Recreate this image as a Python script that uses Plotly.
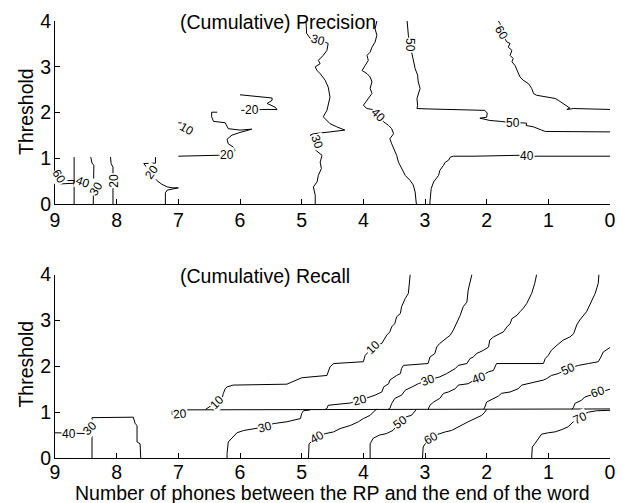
import plotly.graph_objects as go

# ---------------- Data (x: number of phones, y: threshold) ----------------
tick_vals_x = [0, 1, 2, 3, 4, 5, 6, 7, 8, 9]
tick_vals_y = [0, 1, 2, 3, 4]

# (Cumulative) Precision contour paths
p60a_x = [9.0, 8.69, 8.69, 9.0]
p60a_y = [0.52, 0.52, 0.46, 0.44]
p40a_x = [8.69, 8.69]
p40a_y = [1.03, 0.0]
p30a_x = [8.42, 8.40, 8.37, 8.37, 8.38, 8.38]
p30a_y = [1.03, 0.90, 0.85, 0.60, 0.30, 0.0]
p20a_x = [8.10, 8.09, 8.06, 8.06]
p20a_y = [1.03, 0.89, 0.81, 0.0]
p20b_x = [7.37, 7.37, 7.56, 7.35, 7.27, 7.18, 7.10, 7.00, 7.18, 7.21, 7.21]
p20b_y = [1.03, 0.90, 0.89, 0.52, 0.44, 0.38, 0.36, 0.36, 0.31, 0.25, 0.0]
p10_x = [7.00, 6.84, 6.82, 6.90, 7.00]
p10_y = [1.78, 1.76, 1.68, 1.60, 1.58]
p20c_x = [6.37, 6.46, 6.46, 6.43, 6.24, 6.19, 6.00, 5.81, 6.02, 6.13, 6.21, 6.19,
          6.11, 6.08, 6.13, 6.21, 6.35, 7.00]
p20c_y = [2.01, 2.01, 1.91, 1.81, 1.78, 1.65, 1.62, 1.64, 1.56, 1.51, 1.42, 1.32,
          1.25, 1.18, 1.11, 1.07, 1.07, 1.05]
p20d_x = [6.00, 5.48, 5.48, 5.56, 5.43, 5.40, 5.65, 5.81, 5.98]
p20d_y = [2.39, 2.32, 2.27, 2.20, 2.12, 2.07, 2.07, 2.05, 2.05]
p30_x = [4.93, 4.92, 4.86, 4.73, 4.62, 4.57, 4.59, 4.65, 4.73, 4.70, 4.78, 4.75,
         4.70, 4.62, 4.57, 4.54, 4.57, 4.59, 4.65, 4.54, 4.43, 4.30, 4.54, 4.81,
         4.86, 4.75, 4.81, 4.73, 4.67, 4.70, 4.68, 4.73, 4.75, 4.81, 4.78, 4.78]
p30_y = [4.00, 3.73, 3.62, 3.58, 3.54, 3.51, 3.36, 3.25, 3.14, 3.07, 3.00, 2.92,
         2.85, 2.71, 2.56, 2.34, 2.20, 2.05, 1.91, 1.76, 1.69, 1.62, 1.58, 1.54,
         1.51, 1.36, 1.22, 1.14, 1.07, 0.92, 0.78, 0.63, 0.49, 0.38, 0.20, 0.0]
p40l_x = [3.78, 3.81, 3.78, 3.81, 3.86, 3.89, 3.94, 3.92, 3.97, 4.02, 3.94, 3.89,
          3.86, 3.89, 3.86, 3.92, 3.97, 4.00, 3.94, 3.86, 3.76, 3.67, 3.59, 3.54,
          3.51, 3.57, 3.54, 3.51, 3.46, 3.43, 3.38, 3.32, 3.24, 3.19, 3.16, 3.14, 3.14]
p40l_y = [4.00, 3.83, 3.69, 3.54, 3.43, 3.32, 3.25, 3.14, 3.03, 2.92, 2.85, 2.78,
          2.67, 2.53, 2.42, 2.31, 2.23, 2.16, 2.09, 2.07, 1.94, 1.80, 1.72, 1.65,
          1.54, 1.43, 1.32, 1.22, 1.07, 0.92, 0.78, 0.63, 0.52, 0.42, 0.27, 0.05, 0.0]
p40r_x = [2.92, 2.92, 2.90, 2.86, 2.78, 2.76, 2.70, 2.67, 2.62, 2.59, 2.54, 2.19,
          1.46, 1.34, 1.22, 0.0]
p40r_y = [0.0, 0.05, 0.34, 0.49, 0.63, 0.74, 0.85, 0.92, 0.96, 1.03, 1.05, 1.05,
          1.07, 1.06, 1.05, 1.05]
p50_x = [3.29, 3.27, 3.24, 3.21, 3.19, 3.16, 3.12, 3.11, 3.08, 3.11, 3.13, 3.12,
         3.13, 2.92, 2.03, 1.99, 2.00, 2.11, 2.03, 1.95, 1.78, 1.58, 1.46, 1.35,
         1.36, 1.24, 1.11, 1.05, 0.0]
p50_y = [4.00, 3.69, 3.47, 3.25, 3.11, 2.96, 2.82, 2.67, 2.53, 2.42, 2.31, 2.16,
         2.09, 2.08, 2.05, 1.99, 1.90, 1.88, 1.86, 1.83, 1.81, 1.78, 1.78, 1.77,
         1.72, 1.69, 1.62, 1.59, 1.58]
p60_x = [1.81, 1.78, 1.76, 1.67, 1.62, 1.65, 1.59, 1.62, 1.57, 1.59, 1.54, 1.51,
         1.49, 1.46, 1.41, 1.32, 1.27, 1.24, 1.19, 1.03, 0.89, 0.84, 0.78, 0.70,
         0.65, 0.70, 0.59, 0.0]
p60_y = [4.00, 3.94, 3.73, 3.54, 3.51, 3.43, 3.36, 3.25, 3.18, 3.11, 3.03, 2.92,
         2.85, 2.78, 2.71, 2.63, 2.53, 2.42, 2.38, 2.34, 2.31, 2.27, 2.22, 2.16,
         2.10, 2.07, 2.09, 2.07]

prec_lbl_text = ["60", "40", "30", "20", "20", "10", "20", "20", "30", "30",
                 "40", "50", "50", "40", "60"]
prec_lbl_x = [8.93, 8.55, 8.34, 8.04, 7.43, 6.86, 6.21, 5.81, 4.73, 4.75,
              3.76, 3.24, 1.58, 1.34, 1.76]
prec_lbl_y = [0.60, 0.49, 0.34, 0.52, 0.70, 1.65, 1.07, 2.05, 3.58, 1.36,
              1.94, 3.47, 1.78, 1.06, 3.73]
prec_lbl_angle = [60, 20, -60, -90, -55, 30, 0, 0, 15, 70, 45, 90, 0, 0, 60]

# (Cumulative) Recall contour paths
r40a_x = [9.0, 8.41]
r40a_y = [0.55, 0.53]
r30a_x = [8.40, 8.40, 8.40, 7.73, 7.70, 7.67, 7.67, 7.62, 7.61]
r30a_y = [0.0, 0.53, 0.88, 0.89, 0.75, 0.71, 0.35, 0.31, 0.0]
rh_x = [7.10, 7.10, 6.97, 6.86, 0.0]
rh_y = [1.03, 0.95, 0.97, 1.05, 1.07]
r10_x = [6.56, 6.48, 6.37, 6.29, 6.27, 6.24, 6.21, 6.11, 5.24, 5.19, 5.08, 5.00,
         4.59, 4.54, 4.48, 4.00, 3.97, 3.84, 3.70, 3.67, 3.62, 3.57, 3.54, 3.49,
         3.46, 3.40, 3.38, 3.32, 3.27, 3.24]
r10_y = [1.06, 1.13, 1.22, 1.30, 1.41, 1.51, 1.55, 1.59, 1.61, 1.64, 1.70, 1.75,
         1.80, 1.99, 2.06, 2.10, 2.24, 2.42, 2.50, 2.57, 2.68, 2.75, 2.86, 2.93,
         3.08, 3.15, 3.30, 3.48, 3.59, 4.00]
r20_x = [4.62, 4.59, 4.57, 4.21, 4.05, 3.89, 3.81, 3.70, 3.67, 3.59, 3.57, 3.46,
         3.40, 3.38, 3.35, 2.95, 2.92, 2.84, 2.81, 2.76, 2.70, 2.65, 2.59, 2.54,
         2.48, 2.43, 2.38, 2.32, 2.30, 2.27, 2.24]
r20_y = [1.06, 1.08, 1.15, 1.20, 1.26, 1.33, 1.37, 1.44, 1.55, 1.62, 1.70, 1.80,
         1.84, 1.95, 2.02, 2.06, 2.20, 2.28, 2.42, 2.50, 2.57, 2.61, 2.68, 2.79,
         2.97, 3.11, 3.30, 3.40, 3.66, 3.81, 4.00]
r30b_x = [3.60, 3.57, 3.54, 3.49, 3.38, 3.32, 3.21, 3.11, 2.95, 2.76, 2.65, 2.59,
          2.51, 2.46, 2.32, 2.27, 2.22, 2.16, 2.05, 1.97, 1.95, 1.89, 1.78, 1.73,
          1.67, 1.62, 1.59, 1.51, 1.46, 1.41, 1.35, 1.30, 1.27, 1.22, 1.19]
r30b_y = [1.06, 1.08, 1.19, 1.30, 1.37, 1.48, 1.55, 1.62, 1.70, 1.77, 1.84, 1.88,
          1.95, 2.02, 2.06, 2.17, 2.20, 2.28, 2.35, 2.42, 2.57, 2.64, 2.71, 2.75,
          2.86, 2.93, 3.04, 3.11, 3.19, 3.26, 3.37, 3.51, 3.59, 3.81, 4.00]
r40b_x = [2.95, 2.92, 2.86, 2.76, 2.70, 2.62, 2.51, 2.46, 2.30, 2.13, 1.97, 1.89,
          1.86, 1.84, 1.08, 1.05, 1.00, 0.95, 0.86, 0.76, 0.65, 0.59, 0.54, 0.49,
          0.38, 0.32, 0.24, 0.19, 0.18]
r40b_y = [1.06, 1.15, 1.22, 1.30, 1.41, 1.44, 1.51, 1.59, 1.62, 1.75, 1.88, 1.91,
          2.02, 2.06, 2.06, 2.17, 2.24, 2.35, 2.46, 2.57, 2.64, 2.71, 2.90, 3.01,
          3.19, 3.37, 3.59, 3.81, 4.00]
r50b_x = [2.05, 2.03, 2.00, 1.89, 1.81, 1.76, 1.62, 1.49, 1.43, 1.08, 1.03, 0.95,
          0.84, 0.68, 0.51, 0.35, 0.19, 0.16, 0.11, 0.0]
r50b_y = [1.06, 1.11, 1.22, 1.30, 1.35, 1.41, 1.44, 1.51, 1.59, 1.70, 1.73, 1.80,
          1.84, 1.95, 2.02, 2.06, 2.10, 2.17, 2.31, 2.41]
r60b_x = [0.62, 0.59, 0.57, 0.46, 0.41, 0.30, 0.20, 0.0]
r60b_y = [1.06, 1.11, 1.19, 1.26, 1.33, 1.37, 1.42, 1.50]
r70_x = [1.27, 1.26, 1.22, 1.16, 1.11, 1.00, 0.89, 0.78, 0.68, 0.51, 0.35, 0.22, 0.0]
r70_y = [0.0, 0.24, 0.31, 0.42, 0.52, 0.55, 0.57, 0.62, 0.68, 0.90, 1.00, 1.03, 1.04]
r60a_x = [3.04, 3.03, 2.92, 2.78, 2.67, 2.57, 2.46, 2.38, 2.30, 2.19, 2.08, 2.03, 2.00]
r60a_y = [0.0, 0.24, 0.46, 0.53, 0.57, 0.60, 0.68, 0.75, 0.79, 0.86, 0.93, 1.00, 1.06]
r50a_x = [3.89, 3.89, 3.84, 3.74, 3.63, 3.52, 3.40, 3.30, 3.22, 3.17, 3.14]
r50a_y = [0.0, 0.31, 0.43, 0.50, 0.53, 0.60, 0.79, 0.90, 0.93, 1.00, 1.06]
r40c_x = [4.89, 4.88, 4.75, 4.62, 4.48, 4.38, 4.21, 4.08, 4.00, 3.89, 3.84, 3.79]
r40c_y = [0.0, 0.31, 0.46, 0.53, 0.57, 0.64, 0.71, 0.79, 0.86, 0.93, 1.00, 1.06]
r30c_x = [6.21, 6.21, 6.19, 6.11, 6.05, 5.94, 5.78, 5.59, 5.46, 5.24, 5.02, 5.00, 4.97, 4.86]
r30c_y = [0.0, 0.10, 0.35, 0.46, 0.55, 0.60, 0.64, 0.68, 0.75, 0.79, 0.86, 0.97, 1.03, 1.05]

rec_lbl_text = ["40", "30", "20", "10", "10", "20", "30", "40", "50", "60",
                "70", "60", "50", "40", "30"]
rec_lbl_x = [8.77, 8.43, 6.97, 6.37, 3.84, 4.05, 2.95, 2.13, 0.68, 0.20,
             0.49, 2.90, 3.40, 4.75, 5.59]
rec_lbl_y = [0.53, 0.65, 0.97, 1.22, 2.42, 1.26, 1.70, 1.75, 1.95, 1.43,
             0.88, 0.44, 0.79, 0.46, 0.68]
rec_lbl_angle = [0, -45, -5, -45, -45, -15, -20, -20, -25, -20, -25, -30, -35, -30, -15]

precision_paths = [(p60a_x, p60a_y), (p40a_x, p40a_y), (p30a_x, p30a_y),
                   (p20a_x, p20a_y), (p20b_x, p20b_y), (p10_x, p10_y),
                   (p20c_x, p20c_y), (p20d_x, p20d_y), (p30_x, p30_y),
                   (p40l_x, p40l_y), (p40r_x, p40r_y), (p50_x, p50_y),
                   (p60_x, p60_y)]
recall_paths = [(r40a_x, r40a_y), (r30a_x, r30a_y), (rh_x, rh_y), (r10_x, r10_y),
                (r20_x, r20_y), (r30b_x, r30b_y), (r40b_x, r40b_y),
                (r50b_x, r50b_y), (r60b_x, r60b_y), (r70_x, r70_y),
                (r60a_x, r60a_y), (r50a_x, r50a_y), (r40c_x, r40c_y),
                (r30c_x, r30c_y)]

FONT = "Liberation Sans, Arial, Helvetica, sans-serif"

fig = go.Figure()
for xs, ys in precision_paths:
    fig.add_trace(go.Scatter(x=xs, y=ys, mode="lines", xaxis="x", yaxis="y",
                             line=dict(color="black", width=1),
                             hoverinfo="skip", showlegend=False))
for xs, ys in recall_paths:
    fig.add_trace(go.Scatter(x=xs, y=ys, mode="lines", xaxis="x2", yaxis="y2",
                             line=dict(color="black", width=1),
                             hoverinfo="skip", showlegend=False))

annotations = []
for t, x, y, a in zip(prec_lbl_text, prec_lbl_x, prec_lbl_y, prec_lbl_angle):
    annotations.append(dict(text=t, x=x, y=y, xref="x", yref="y", showarrow=False,
                            textangle=a, bgcolor="white", borderpad=0,
                            font=dict(family=FONT, size=12, color="black")))
for t, x, y, a in zip(rec_lbl_text, rec_lbl_x, rec_lbl_y, rec_lbl_angle):
    annotations.append(dict(text=t, x=x, y=y, xref="x2", yref="y2", showarrow=False,
                            textangle=a, bgcolor="white", borderpad=0,
                            font=dict(family=FONT, size=12, color="black")))

big = dict(family=FONT, size=19.5, color="black")
annotations += [
    dict(text="(Cumulative) Precision", x=7.0, y=3.97, xref="x", yref="y",
         xanchor="left", yanchor="middle", showarrow=False, font=big),
    dict(text="(Cumulative) Recall", x=7.0, y=3.97, xref="x2", yref="y2",
         xanchor="left", yanchor="middle", showarrow=False, font=big),
    dict(text="Threshold", x=-0.052, y=0.792, xref="paper", yref="paper",
         textangle=-90, xanchor="center", yanchor="middle", showarrow=False, font=big),
    dict(text="Threshold", x=-0.052, y=0.214, xref="paper", yref="paper",
         textangle=-90, xanchor="center", yanchor="middle", showarrow=False, font=big),
    dict(text="Number of phones between the RP and the end of the word",
         x=0.5, y=-0.079, xref="paper", yref="paper", xanchor="center",
         yanchor="middle", showarrow=False, borderpad=0, font=big),
]

axis_common = dict(showline=True, linecolor="black", linewidth=1, ticks="inside",
                   ticklen=5, tickwidth=1, tickcolor="black", showgrid=False,
                   zeroline=False, mirror=False, tickfont=big, automargin=False)

fig.update_layout(
    template="none",
    width=623, height=503,
    margin=dict(l=54.7, r=13, t=20.7, b=45.3, autoexpand=False),
    paper_bgcolor="white", plot_bgcolor="white",
    font=big,
    xaxis=dict(range=[9, 0], tickvals=tick_vals_x, anchor="y", domain=[0, 1],
               ticklabelstandoff=-2, **axis_common),
    yaxis=dict(range=[0, 4], tickvals=tick_vals_y, anchor="x", domain=[0.5805, 1],
               ticklabelstandoff=-1, **axis_common),
    xaxis2=dict(range=[9, 0], tickvals=tick_vals_x, anchor="y2", domain=[0, 1],
                ticklabelstandoff=-3, **axis_common),
    yaxis2=dict(range=[0, 4], tickvals=tick_vals_y, anchor="x2", domain=[0, 0.4197],
                ticklabelstandoff=-1, **axis_common),
    annotations=annotations,
    showlegend=False,
)

fig.write_html("out.html", config={"displayModeBar": False},
               post_script="document.body.style.margin='0';")
